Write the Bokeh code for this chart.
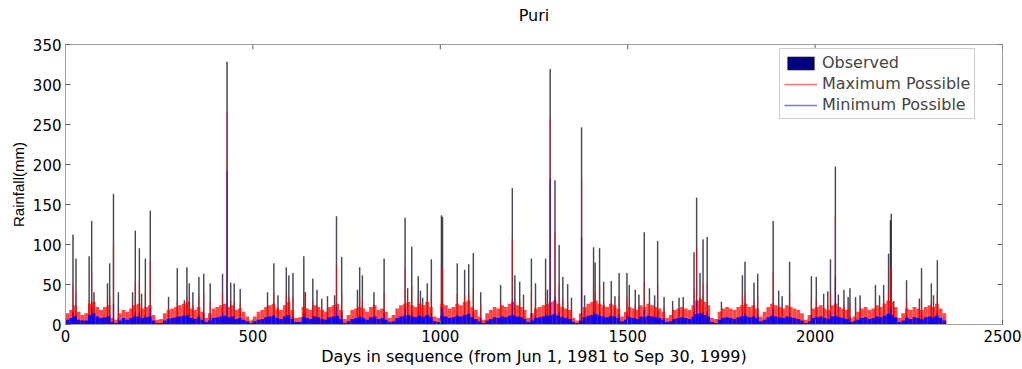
from bokeh.plotting import figure
from bokeh.models import Range1d, FixedTicker, Legend, LegendItem, ColumnDataSource, LinearAxis
from bokeh.embed import file_html
from bokeh.resources import INLINE

# ---------------- data ----------------
N_DAYS = 2346
BLOCK = 10  # background envelope is read in 10-day blocks

# envelope of the dense "Maximum Possible" band, per 10-day block (mm)
bg_max = [14, 18, 24, 16, 12, 14, 26, 28, 22, 18,
          22, 24, 8, 6, 14, 18, 16, 20, 24, 26,
          20, 22, 24, 12, 6, 7, 14, 18, 20, 22,
          24, 26, 28, 20, 18, 22, 16, 8, 14, 20,
          22, 24, 26, 22, 24, 18, 20, 16, 10, 5,
          10, 16, 18, 22, 24, 26, 20, 18, 24, 28,
          18, 8, 9, 22, 20, 18, 24, 22, 18, 16,
          22, 24, 26, 18, 7, 12, 18, 20, 22, 20,
          16, 22, 24, 18, 20, 16, 8, 12, 20, 24,
          26, 28, 24, 22, 26, 24, 28, 22, 10, 8,
          26, 24, 20, 22, 26, 24, 28, 30, 22, 18,
          10, 6, 14, 18, 22, 20, 24, 22, 26, 28,
          24, 22, 18, 8, 14, 20, 22, 24, 26, 28,
          30, 26, 22, 20, 18, 8, 5, 14, 22, 26,
          28, 30, 26, 24, 22, 26, 24, 20, 10, 16,
          22, 20, 18, 24, 22, 26, 24, 22, 20, 16,
          8, 12, 18, 20, 22, 20, 18, 24, 30, 32,
          28, 24, 8, 7, 16, 20, 22, 20, 18, 22,
          24, 26, 22, 24, 20, 10, 16, 22, 26, 24,
          22, 20, 24, 22, 20, 18, 14, 6, 12, 20,
          22, 24, 20, 18, 24, 26, 22, 20, 18, 8,
          10, 16, 20, 22, 18, 20, 24, 22, 26, 30,
          28, 22, 8, 14, 20, 18, 22, 20, 18, 22,
          24, 22, 26, 20, 14]

# envelope of the dense "Minimum Possible" band, per 10-day block (mm)
bg_min = [6, 8, 10, 6, 5, 5, 12, 14, 10, 8,
          9, 10, 3, 2, 5, 8, 6, 8, 10, 10,
          8, 9, 10, 5, 2, 2, 5, 7, 8, 9,
          10, 11, 12, 8, 7, 9, 6, 3, 5, 8,
          9, 10, 11, 9, 10, 7, 8, 6, 4, 2,
          4, 6, 7, 9, 10, 11, 8, 7, 10, 12,
          7, 3, 3, 9, 8, 7, 10, 9, 7, 6,
          9, 10, 11, 7, 2, 4, 7, 8, 9, 8,
          6, 9, 10, 7, 8, 6, 3, 4, 8, 10,
          11, 12, 10, 9, 11, 10, 12, 9, 4, 3,
          11, 10, 8, 9, 11, 10, 12, 13, 9, 7,
          4, 2, 5, 7, 9, 8, 10, 9, 11, 12,
          10, 9, 7, 3, 5, 8, 9, 10, 11, 12,
          13, 11, 9, 8, 7, 3, 2, 5, 9, 11,
          12, 13, 11, 10, 9, 11, 10, 8, 4, 6,
          9, 8, 7, 10, 9, 11, 10, 9, 8, 6,
          3, 4, 7, 8, 9, 8, 7, 10, 13, 14,
          12, 10, 3, 2, 6, 8, 9, 8, 7, 9,
          10, 11, 9, 10, 8, 4, 6, 9, 11, 10,
          9, 8, 10, 9, 8, 7, 5, 2, 4, 8,
          9, 10, 8, 7, 10, 11, 9, 8, 7, 3,
          4, 6, 8, 9, 7, 8, 10, 9, 11, 13,
          12, 9, 3, 5, 8, 7, 9, 8, 7, 9,
          10, 9, 11, 8, 5]

# rain events that stand out above the band: day, observed, max possible, min possible
peak_day = [20, 28, 63, 70, 76, 112, 118, 128, 141, 179, 186, 197, 203, 213, 226,
            275, 298, 317, 324, 330, 340, 356, 369, 386, 419, 431, 441, 450, 466,
            539, 556, 567, 589, 596, 607, 636, 640, 660, 671, 684, 699, 718, 723,
            737, 779, 785, 792, 823, 850, 906, 913, 924, 941, 947, 953, 965, 976,
            1003, 1006, 1045, 1065, 1076, 1088, 1108, 1161, 1192, 1199, 1212, 1222,
            1243, 1254, 1281, 1286, 1293, 1306, 1317, 1327, 1340, 1350, 1377, 1385,
            1409, 1413, 1425, 1436, 1456, 1466, 1477, 1498, 1504, 1520, 1530, 1544,
            1558, 1572, 1580, 1597, 1620, 1637, 1648, 1677, 1684, 1693, 1701, 1712,
            1750, 1806, 1813, 1837, 1847, 1888, 1903, 1912, 1932, 1990, 2003, 2023,
            2034, 2041, 2054, 2062, 2077, 2088, 2093, 2108, 2120, 2161, 2172, 2183,
            2196, 2201, 2203, 2210, 2244, 2278, 2284, 2310, 2316, 2326]
peak_obs = [112, 82, 85, 129, 40, 51, 76, 163, 40, 40, 117, 95, 38, 82, 142,
            34, 70, 30, 71, 51, 40, 59, 63, 51, 63, 328, 52, 51, 44,
            40, 76, 36, 71, 61, 64, 85, 40, 57, 43, 32, 35, 36, 135,
            84, 43, 71, 61, 40, 82, 133, 45, 97, 60, 42, 33, 51, 81,
            136, 134, 76, 68, 75, 89, 40, 49, 170, 61, 53, 37,
            82, 51, 82, 43, 319, 180, 99, 59, 50, 33, 246, 36,
            96, 77, 95, 53, 54, 35, 64, 64, 49, 43, 37, 115,
            45, 36, 104, 34, 29, 33, 34, 90, 158, 64, 106, 109,
            28, 61, 78, 52, 63, 129, 42, 35, 78, 60, 59, 38,
            41, 81, 197, 37, 43, 34, 45, 34, 36, 49, 36, 49,
            88, 130, 138, 29, 55, 32, 70, 51, 36, 80]
peak_max = [50, 40, 30, 65, 28, 30, 35, 100, 22, 25, 53, 53, 22, 40, 79,
            20, 30, 20, 35, 30, 25, 35, 40, 30, 40, 265, 30, 28, 26,
            25, 40, 22, 38, 35, 35, 40, 25, 30, 25, 20, 22, 22, 74,
            40, 25, 35, 30, 25, 40, 71, 28, 48, 35, 25, 20, 30, 42,
            74, 70, 38, 35, 38, 45, 25, 28, 107, 32, 30, 22,
            40, 30, 40, 25, 257, 117, 50, 32, 28, 20, 182, 22,
            50, 40, 48, 30, 30, 22, 35, 35, 28, 25, 22, 53,
            28, 22, 50, 22, 20, 20, 22, 45, 96, 35, 50, 52,
            18, 35, 40, 30, 35, 65, 25, 22, 40, 35, 32, 22,
            25, 40, 135, 22, 25, 20, 28, 20, 22, 28, 22, 28,
            40, 70, 74, 18, 30, 20, 35, 30, 22, 40]
peak_min = [15, 12, 12, 22, 12, 10, 12, 26, 8, 8, 15, 15, 8, 12, 20,
            8, 10, 8, 12, 10, 8, 12, 15, 10, 15, 192, 10, 10, 8,
            8, 12, 8, 12, 12, 10, 14, 8, 10, 8, 6, 8, 8, 22,
            14, 8, 12, 10, 8, 14, 20, 8, 15, 12, 8, 6, 10, 14,
            22, 20, 12, 12, 14, 15, 8, 10, 30, 10, 10, 8,
            14, 10, 14, 8, 182, 35, 15, 10, 10, 6, 109, 8,
            16, 12, 15, 10, 10, 8, 12, 12, 10, 8, 8, 18,
            10, 8, 16, 8, 6, 6, 8, 15, 30, 12, 16, 16,
            6, 12, 14, 10, 12, 20, 8, 8, 14, 12, 10, 8,
            8, 14, 60, 8, 8, 6, 10, 6, 8, 10, 8, 10,
            14, 20, 22, 6, 10, 6, 12, 10, 8, 14]

x_ticks = [0, 500, 1000, 1500, 2000, 2500]
y_ticks = [0, 50, 100, 150, 200, 250, 300, 350]

X_MAX, Y_MAX = 2500, 350

# ---------------- figure ----------------
TICK_FONT = "DejaVu Sans"
p = figure(width=1022, height=369, x_range=Range1d(0, X_MAX), y_range=Range1d(0, Y_MAX),
           output_backend="svg", toolbar_location=None,
           min_border_left=65, min_border_right=20, min_border_top=44, min_border_bottom=45)
p.grid.visible = False
p.outline_line_color = "#a0a0a0"
p.background_fill_color = "white"
p.border_fill_color = "white"

xax = p.below[0]
yax = p.left[0]

for ax in (xax, yax):
    ax.major_tick_in = 5
    ax.major_tick_out = 0
    ax.minor_tick_line_color = None
    ax.axis_line_color = "#a0a0a0"
    ax.major_tick_line_color = "#606060"
    ax.major_label_text_font = TICK_FONT
    ax.major_label_text_font_size = "15px"
    ax.major_label_text_color = "black"
    ax.axis_label_text_font_style = "normal"
    ax.axis_label_text_color = "black"

xax.ticker = FixedTicker(ticks=x_ticks)
yax.ticker = FixedTicker(ticks=y_ticks)
xax.axis_label = "Days in sequence (from Jun 1, 1981 to Sep 30, 1999)"
xax.axis_label_text_font = TICK_FONT
xax.axis_label_text_font_size = "16px"
xax.major_label_standoff = 5
xax.axis_label_standoff = 2
yax.axis_label = "Rainfall(mm)"
yax.axis_label_text_font = "Liberation Sans"
yax.axis_label_text_font_size = "15px"
yax.major_label_standoff = 4
yax.axis_label_standoff = 3

# title: carried by a tick-less axis above the box, so its distance to the box is controlled
title_axis = LinearAxis(ticker=FixedTicker(ticks=[]), axis_label="Puri",
                        axis_line_color=None, major_tick_line_color=None, minor_tick_line_color=None,
                        axis_label_standoff=20, axis_label_text_font=TICK_FONT,
                        axis_label_text_font_size="16px", axis_label_text_font_style="normal",
                        axis_label_text_color="black")
p.add_layout(title_axis, "above")

# mirrored ticks on the top and right edges of the box (MATLAB "box on" style)
TICK_X_LEN = 13   # days  (about 5 px)
TICK_Y_LEN = 6    # mm    (about 5 px)
p.segment(x0=x_ticks, y0=[Y_MAX] * len(x_ticks), x1=x_ticks, y1=[Y_MAX - TICK_Y_LEN] * len(x_ticks),
          line_color="#606060", line_width=1)
p.segment(x0=[X_MAX] * len(y_ticks), y0=y_ticks, x1=[X_MAX - TICK_X_LEN] * len(y_ticks), y1=y_ticks,
          line_color="#606060", line_width=1)

# ---------------- glyphs ----------------
bg_x = [BLOCK * i + BLOCK / 2 for i in range(len(bg_max))]
bg_src = ColumnDataSource(dict(x=bg_x, top_max=bg_max, top_min=bg_min))
pk_src = ColumnDataSource(dict(day=peak_day, obs=peak_obs, mx=peak_max, mn=peak_min))

obs_r = p.vbar(x="day", top="obs", width=1, bottom=0, source=pk_src,
               fill_color="navy", line_color="black", line_width=1.2, line_alpha=0.55)
p.vbar(x="x", top="top_max", width=BLOCK, bottom=0, source=bg_src,
       fill_color="red", fill_alpha=0.72, line_color=None)
max_r = p.segment(x0="day", y0=0, x1="day", y1="mx", source=pk_src,
                  line_color="red", line_alpha=0.55, line_width=1.3)
p.vbar(x="x", top="top_min", width=BLOCK, bottom=0, source=bg_src,
       fill_color="blue", fill_alpha=0.9, line_color=None)
min_r = p.segment(x0="day", y0=0, x1="day", y1="mn", source=pk_src,
                  line_color="blue", line_alpha=0.55, line_width=1.3)

legend = Legend(items=[LegendItem(label="Observed", renderers=[obs_r]),
                       LegendItem(label="Maximum Possible", renderers=[max_r]),
                       LegendItem(label="Minimum Possible", renderers=[min_r])],
                location=(714, 205))
legend.label_text_font = TICK_FONT
legend.label_text_font_size = "16px"
legend.glyph_width = 33
legend.glyph_height = 16
legend.label_height = 19
legend.spacing = 2
legend.padding = 4
legend.margin = 0
legend.label_standoff = 5
legend.border_line_color = "#a0a0a0"
legend.background_fill_alpha = 1.0
p.add_layout(legend, "center")

open("out.html", "w").write(file_html(p, INLINE))
